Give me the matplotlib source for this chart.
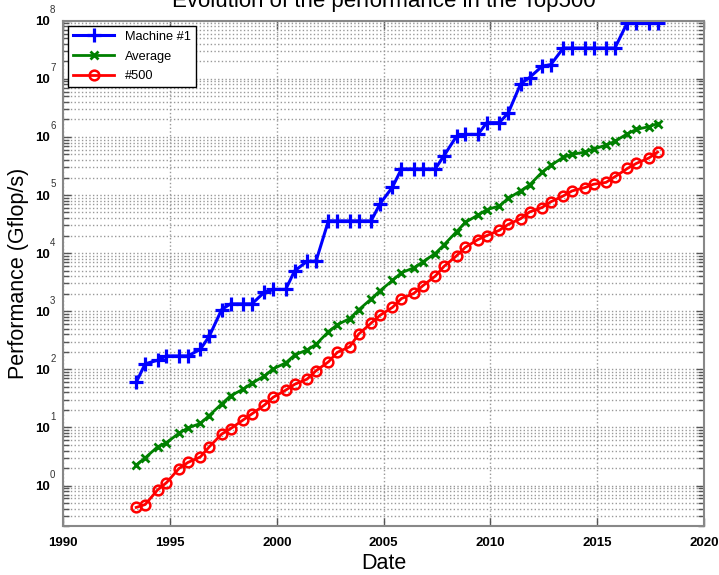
import matplotlib
matplotlib.use('Agg')
from matplotlib import pyplot as plt
from matplotlib import ticker

# Top500 lists (June / November), performances in Gflop/s
editions = [
    '1993-06', '1993-11', '1994-06', '1994-11', '1995-06', '1995-11',
    '1996-06', '1996-11', '1997-06', '1997-11', '1998-06', '1998-11',
    '1999-06', '1999-11', '2000-06', '2000-11', '2001-06', '2001-11',
    '2002-06', '2002-11', '2003-06', '2003-11', '2004-06', '2004-11',
    '2005-06', '2005-11', '2006-06', '2006-11', '2007-06', '2007-11',
    '2008-06', '2008-11', '2009-06', '2009-11', '2010-06', '2010-11',
    '2011-06', '2011-11', '2012-06', '2012-11', '2013-06', '2013-11',
    '2014-06', '2014-11', '2015-06', '2015-11', '2016-06', '2016-11',
    '2017-06', '2017-11',
]

machine_1 = [
    59.7, 124, 143.4, 170, 170, 170,
    220.4, 368.2, 1068, 1338, 1338, 1338,
    2121, 2379, 2379, 4938, 7226, 7226,
    35860, 35860, 35860, 35860, 35860, 70720,
    136800, 280600, 280600, 280600, 280600, 478200,
    1026000, 1105000, 1105000, 1759000, 1759000, 2566000,
    8162000, 10510000, 16320000, 17590000, 33860000, 33860000,
    33860000, 33860000, 33860000, 33860000, 93010000, 93010000,
    93010000, 93010000,
]

average = [
    2.26, 2.99, 4.63, 5.46, 7.95, 9.77,
    11.7, 16.0, 25.4, 35.0, 45.4, 57.6,
    76.8, 102, 129, 176, 216, 268,
    444, 586, 748, 1056, 1626, 2254,
    3380, 4600, 5580, 7060, 9840, 13940,
    23400, 33900, 45200, 55800, 64800, 87400,
    117800, 148400, 246000, 324000, 446000, 500000,
    548000, 618000, 722000, 840000, 1134000, 1344000,
    1498000, 1690000,
]

rank_500 = [
    0.42, 0.47, 0.84, 1.12, 1.96, 2.49,
    3.1, 4.62, 7.67, 9.51, 13.39, 17.1,
    24.2, 33.1, 43.8, 55.1, 67.8, 94.3,
    134.3, 195.8, 245.1, 403.4, 624, 850.6,
    1166, 1646, 2026, 2737, 4005, 5929,
    9000, 12640, 17090, 20050, 24670, 31120,
    39090, 51000, 60820, 76500, 96620, 117800,
    133700, 153400, 164800, 206300, 286100, 349300,
    432200, 548700,
]

y_exponents = [0, 1, 2, 3, 4, 5, 6, 7, 8]

dates = [int(e[:4]) + (int(e[5:]) - 1) / 12.0 for e in editions]

plt.rcParams['font.family'] = ['Liberation Sans', 'DejaVu Sans']

fig = plt.figure(figsize=(7.19, 5.75), dpi=100)
ax = fig.add_axes([0.088, 0.085, 0.891, 0.879])

ax.plot(dates, machine_1, '-', color='#0000ff', marker='+', markersize=10,
        markeredgewidth=2.3, linewidth=2.2, label='Machine #1')
ax.plot(dates, average, '-', color='#008000', marker='x', markersize=6,
        markeredgewidth=2.0, linewidth=2.0, label='Average')
ax.plot(dates, rank_500, '-', color='#ff0000', marker='o', markersize=7,
        markerfacecolor='none', markeredgewidth=1.8, linewidth=2.0, label='#500')

ax.set_yscale('log')
ax.set_xlim(1990, 2020)
ax.set_ylim(0.2, 1e8)

ax.xaxis.set_major_locator(ticker.MultipleLocator(5))
ax.set_yticks([10.0 ** e for e in y_exponents])
ax.set_yticklabels(['10'] * len(y_exponents))
ax.yaxis.set_minor_locator(ticker.LogLocator(base=10, subs=range(2, 10), numticks=20))
ax.yaxis.set_minor_formatter(ticker.NullFormatter())

# gnuplot style exponents, small and raised
for e in y_exponents:
    ax.annotate(str(e), xy=(0, 10.0 ** e), xycoords=('axes fraction', 'data'),
                xytext=(-9.5, 4), textcoords='offset points',
                fontsize=7, color='#333333', ha='left', va='bottom')

for lbl in ax.get_xticklabels() + ax.get_yticklabels():
    lbl.set_fontweight('bold')

ax.tick_params(which='both', direction='in', top=True, right=True, color='#555555')
ax.tick_params(which='major', length=6, width=1)
ax.tick_params(which='minor', length=4, width=1)
ax.tick_params(axis='x', labelsize=9.5, pad=8)
ax.tick_params(axis='y', labelsize=9.5, pad=10)

ax.grid(True, which='major', linestyle=':', color='#999999', linewidth=1)
ax.grid(True, which='minor', axis='y', linestyle=':', color='#999999', linewidth=1)

for s in ax.spines.values():
    s.set_color('#888888')
    s.set_linewidth(1.5)

ax.set_xlabel('Date', fontsize=15.5, labelpad=3)
ax.set_ylabel('Performance (Gflop/s)', fontsize=15.5, labelpad=4)
ax.set_title('Evolution of the performance in the Top500', fontsize=16, pad=10)

leg = ax.legend(loc='upper left', bbox_to_anchor=(0.0, 1.0), fontsize=9.2,
                fancybox=False, framealpha=1, edgecolor='black',
                handlelength=3.2, borderaxespad=0.4, labelspacing=0.6,
                numpoints=1)
leg.get_frame().set_linewidth(1)

fig.savefig('out.png', dpi=100)
